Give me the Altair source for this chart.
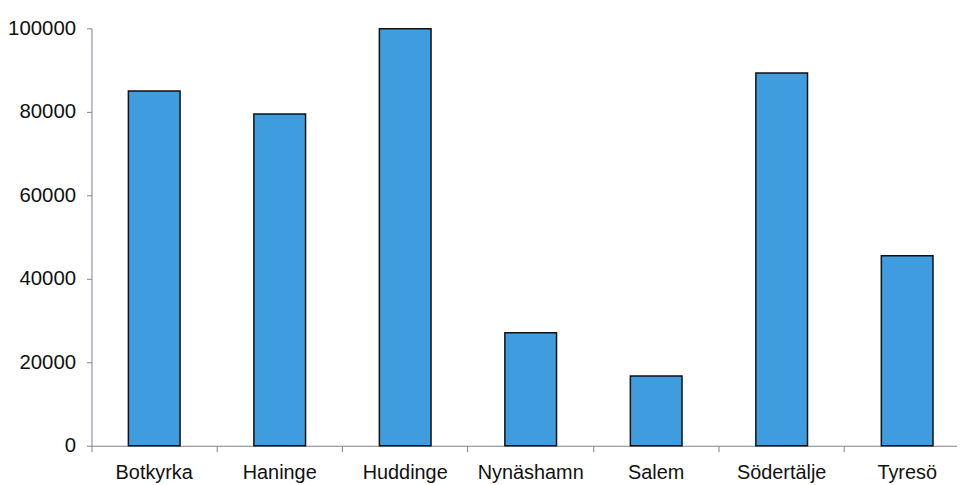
import altair as alt
import pandas as pd

municipalities = ["Botkyrka", "Haninge", "Huddinge", "Nynäshamn", "Salem", "Södertälje", "Tyresö"]
values = [85000, 79500, 99900, 27100, 16700, 89300, 45500]
y_ticks = [0, 20000, 40000, 60000, 80000, 100000]

df = pd.DataFrame({"kommun": municipalities, "value": values})

FONT = "Liberation Sans"
AXIS_COLOR = "#7d8290"

chart = alt.Chart(df).mark_bar(
    size=52, color="#3f9ddf", stroke="#111111", strokeWidth=1.5
).encode(
    x=alt.X(
        "kommun:N",
        sort=municipalities,
        scale=alt.Scale(range=[0, 884], paddingInner=0, paddingOuter=0),
        axis=alt.Axis(
            title=None, labelAngle=0, labelFont=FONT, labelFontSize=20,
            labelColor="#111111", domainColor=AXIS_COLOR, tickColor=AXIS_COLOR,
            tickSize=6, bandPosition=0, labelPadding=11, grid=False,
            labelBaseline="top",
        ),
    ),
    y=alt.Y(
        "value:Q",
        scale=alt.Scale(domain=[0, 100000], nice=False),
        axis=alt.Axis(
            title=None, values=y_ticks, labelFont=FONT, labelFontSize=20.5,
            labelColor="#111111", domainColor=AXIS_COLOR, tickColor=AXIS_COLOR,
            tickSize=5, labelPadding=11, grid=False, format="d",
        ),
    ),
).properties(
    width=871, height=420,
    autosize=alt.AutoSizeParams(type="none"),
    padding={"left": 84, "top": 19, "right": 0, "bottom": 38},
    background="white",
).configure_view(strokeWidth=0)

chart.save("out.html", embed_options={"renderer": "svg", "actions": False})
